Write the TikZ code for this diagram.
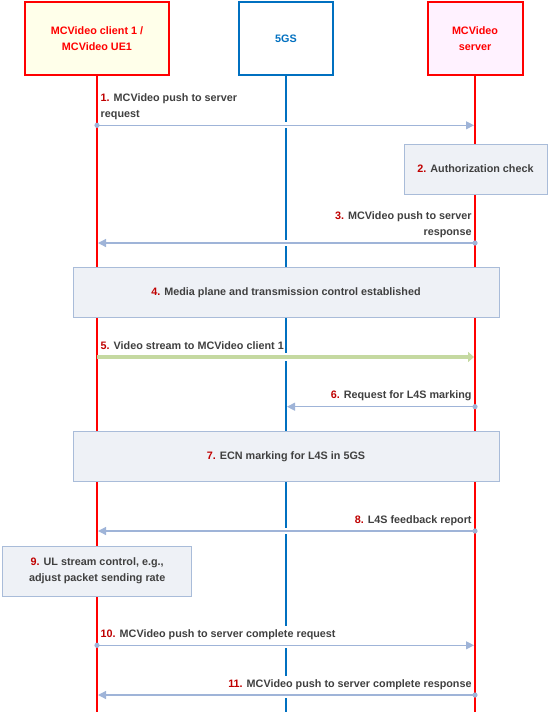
\documentclass[tikz,border=0pt]{standalone}
\usepackage{fontspec}
\setmainfont{Liberation Sans}
\usetikzlibrary{arrows.meta}
\definecolor{lred}{HTML}{FF0000}
\definecolor{lblue}{HTML}{0070C0}
\definecolor{numred}{HTML}{C00000}
\definecolor{txt}{HTML}{404040}
\definecolor{msgc}{HTML}{9FB4D8}
\definecolor{boxfill}{HTML}{EEF1F6}
\definecolor{boxline}{HTML}{A9BCD9}
\definecolor{strm}{HTML}{C5D9A1}
\definecolor{uefill}{HTML}{FFFFEA}
\definecolor{srvfill}{HTML}{FFF2FF}
\newcommand\stepno[1]{\textcolor{numred}{#1}}
\begin{document}
\begin{tikzpicture}[x=1pt,y=-1pt,
  font=\fontsize{10.8}{15.8}\selectfont\bfseries,
  head/.style={draw, line width=2pt, minimum height=73pt, align=center, inner sep=0pt},
  lifeline/.style={line width=2pt},
  stepbox/.style={draw=boxline, fill=boxfill, line width=1pt, inner sep=0pt, align=center, text=txt},
  msg/.style={draw=msgc, line width=1.2pt, -{Triangle[length=8pt,width=8pt]},
    preaction={draw=white, line width=6pt, shorten <=7pt, shorten >=7pt, -}},
  stream/.style={draw=strm, line width=3.5pt, -{Triangle[length=6pt,width=10pt]},
    preaction={draw=white, line width=8pt, shorten <=7pt, shorten >=7pt, -}},
  dot/.style={fill=msgc},
  lab/.style={text=txt, fill=white, inner sep=0pt},
  labl/.style={lab, anchor=south west, align=left},
  labr/.style={lab, anchor=south east, align=right}]
\useasboundingbox (0,0) rectangle (548,712);

% headers
\node[head, draw=lred, fill=uefill, text=lred, minimum width=144pt] (ue) at (97,38.5) {MCVideo client 1 /\\MCVideo UE1};
\node[head, draw=lblue, fill=white, text=lblue, minimum width=94pt] (fgs) at (286,38.5) {5GS};
\node[head, draw=lred, fill=srvfill, text=lred, minimum width=95pt] (srv) at (475,38.5) {MCVideo\\server};

% lifelines
\coordinate (ueEnd) at (97,712);
\coordinate (fgsEnd) at (286,712);
\coordinate (srvEnd) at (475,712);
\draw[lifeline, lred] (ue.south) -- (ueEnd);
\draw[lifeline, lblue] (fgs.south) -- (fgsEnd);
\draw[lifeline, lred] (srv.south) -- (srvEnd);

% message end points
\coordinate (m1s) at (97,125.3);  \coordinate (m1e) at (474,125.3);
\coordinate (m3s) at (475,243);   \coordinate (m3e) at (98,243);
\coordinate (m5s) at (97,357);    \coordinate (m5e) at (474,357);
\coordinate (m6s) at (475,406.7); \coordinate (m6e) at (287,406.7);
\coordinate (m8s) at (475,531);   \coordinate (m8e) at (98,531);
\coordinate (m10s) at (97,645.3); \coordinate (m10e) at (474,645.3);
\coordinate (m11s) at (475,695);  \coordinate (m11e) at (98,695);

% messages
\draw[msg] (m1s) -- (m1e);
\fill[dot] (m1s) circle (2.6pt);
\node[labl] (l1) at (100.5,122.3) {\stepno{1.} MCVideo push to server\\request\strut};

\node[stepbox, minimum width=143pt, minimum height=50pt] (s2) at (475.5,169) {\stepno{2.} Authorization check};

\draw[msg] (m3s) -- (m3e);
\fill[dot] (m3s) circle (2.6pt);
\node[labr] (l3) at (471.8,240) {\stepno{3.} MCVideo push to server\\response\strut};

\node[stepbox, minimum width=426pt, minimum height=50pt] (s4) at (286,292.5) {\stepno{4.} Media plane and transmission control established};

\draw[stream] (m5s) -- (m5e);
\node[labl] (l5) at (100.5,354) {\stepno{5.} Video stream to MCVideo client 1\strut};

\draw[msg] (m6s) -- (m6e);
\fill[dot] (m6s) circle (2.6pt);
\node[labr] (l6) at (471.8,403.7) {\stepno{6.} Request for L4S marking\strut};

\node[stepbox, minimum width=426pt, minimum height=50.5pt] (s7) at (286,456.7) {\stepno{7.} ECN marking for L4S in 5GS};

\draw[msg] (m8s) -- (m8e);
\fill[dot] (m8s) circle (2.6pt);
\node[labr] (l8) at (471.8,528) {\stepno{8.} L4S feedback report\strut};

\node[stepbox, minimum width=189.5pt, minimum height=50pt, font=\fontsize{10.8}{16.4}\selectfont\bfseries] (s9) at (97.2,571) {\stepno{9.} UL stream control, e.g.,\\adjust packet sending rate};

\draw[msg] (m10s) -- (m10e);
\fill[dot] (m10s) circle (2.6pt);
\node[labl] (l10) at (100.5,642.3) {\stepno{10.} MCVideo push to server complete request\strut};

\draw[msg] (m11s) -- (m11e);
\fill[dot] (m11s) circle (2.6pt);
\node[labr] (l11) at (471.8,692) {\stepno{11.} MCVideo push to server complete response\strut};
\end{tikzpicture}
\end{document}
